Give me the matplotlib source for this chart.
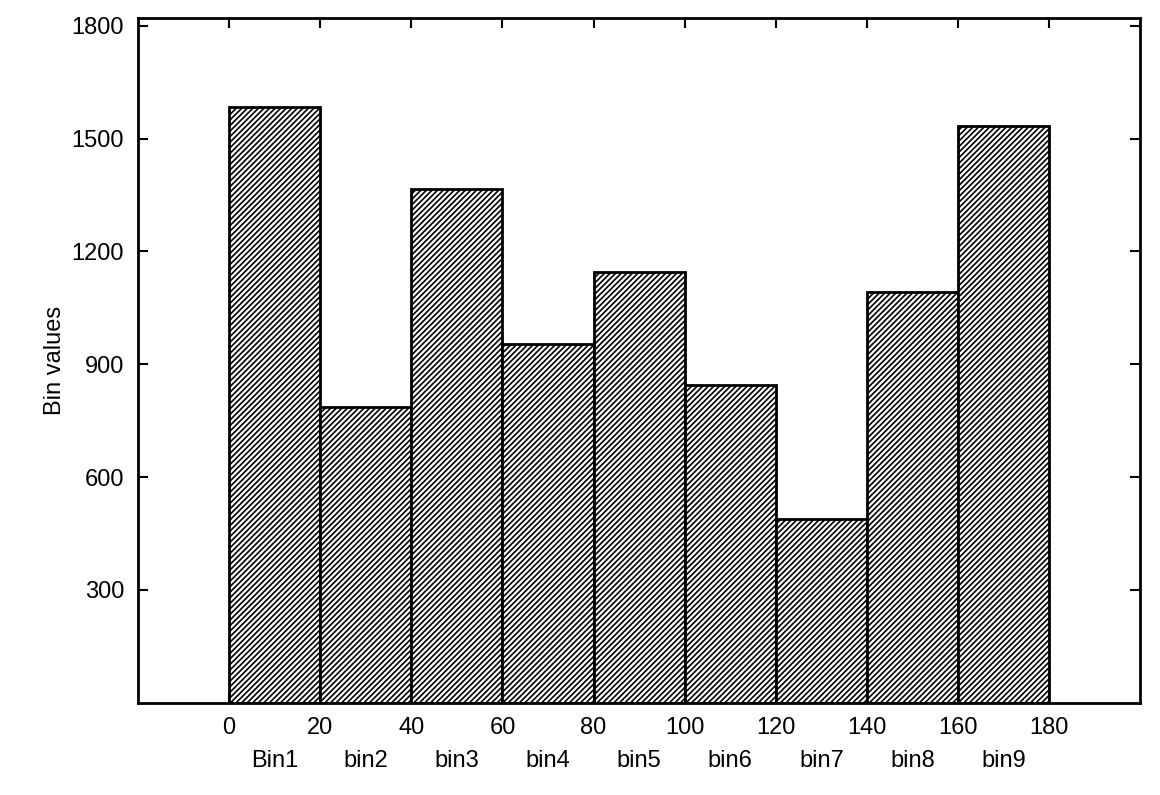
import matplotlib
matplotlib.use("Agg")
import matplotlib.pyplot as plt

edges = [0, 20, 40, 60, 80, 100, 120, 140, 160, 180]
values = [1585, 786, 1365, 955, 1145, 844, 489, 1093, 1534]
bin_labels = ["Bin1", "bin2", "bin3", "bin4", "bin5", "bin6", "bin7", "bin8", "bin9"]
yticks = [300, 600, 900, 1200, 1500, 1800]

plt.rcParams['font.family'] = ['Liberation Sans', 'DejaVu Sans']
plt.rcParams['hatch.linewidth'] = 1.2
fig = plt.figure(figsize=(11.6, 7.95), dpi=100)
ax = fig.add_axes([0.119, 0.116, 0.864, 0.861])
lefts = edges[:-1]
widths = [edges[i+1] - edges[i] for i in range(len(values))]
ax.bar(lefts, values, width=widths, align='edge', facecolor='white',
       edgecolor='black', hatch='//////', linewidth=2)
ax.set_xlim(-20, 200)
ax.set_ylim(0, 1820)
ax.set_xticks(edges)
ax.set_yticks(yticks)
ax.tick_params(direction='in', top=True, right=True, labelsize=17, length=7, width=1.5, pad=10)
for s in ax.spines.values():
    s.set_linewidth(2)
for i, lab in enumerate(bin_labels):
    ax.text(lefts[i] + widths[i] / 2, -0.085, lab, transform=ax.get_xaxis_transform(),
            ha='center', va='center', fontsize=17)
ax.set_ylabel("Bin values", fontsize=17)
fig.savefig("out.png")
